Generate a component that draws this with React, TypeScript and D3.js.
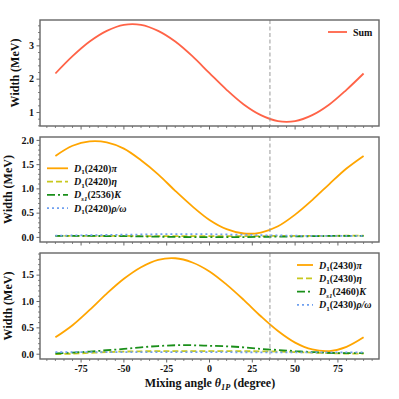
import React from 'react';
import * as d3 from 'd3';

// mixing angle grid (degree)
const angles = [-90, -80, -70, -60, -50, -40, -30, -20, -10, 0, 10, 20, 30, 40, 50, 60, 70, 80, 90];

// top panel
const sumWidth = [2.17, 2.69, 3.13, 3.45, 3.63, 3.63, 3.45, 3.13, 2.69, 2.18, 1.68, 1.24, 0.92, 0.74, 0.74, 0.92, 1.24, 1.68, 2.17];

// middle panel
const d2420Pi = [1.68, 1.89, 1.98, 1.96, 1.83, 1.59, 1.30, 0.96, 0.64, 0.36, 0.17, 0.08, 0.10, 0.23, 0.47, 0.77, 1.10, 1.42, 1.68];
const d2420Eta = [0.03, 0.03, 0.03, 0.03, 0.03, 0.028, 0.027, 0.026, 0.025, 0.025, 0.026, 0.027, 0.028, 0.03, 0.031, 0.032, 0.033, 0.034, 0.035];
const ds2536K = [0.033, 0.032, 0.03, 0.028, 0.025, 0.02, 0.015, 0.01, 0.007, 0.005, 0.005, 0.007, 0.01, 0.015, 0.02, 0.025, 0.03, 0.032, 0.033];
const d2420RhoOmega = [0.035, 0.04, 0.045, 0.05, 0.055, 0.06, 0.065, 0.068, 0.068, 0.065, 0.06, 0.055, 0.045, 0.04, 0.035, 0.03, 0.03, 0.03, 0.032];

// bottom panel
const d2430Pi = [0.32, 0.55, 0.84, 1.15, 1.43, 1.65, 1.79, 1.82, 1.74, 1.57, 1.32, 1.03, 0.72, 0.44, 0.22, 0.09, 0.06, 0.14, 0.32];
const d2430Eta = [0.0, 0.01, 0.025, 0.04, 0.05, 0.055, 0.057, 0.057, 0.057, 0.057, 0.057, 0.056, 0.055, 0.05, 0.04, 0.03, 0.02, 0.012, 0.01];
const ds2460K = [0.013, 0.03, 0.05, 0.075, 0.1, 0.13, 0.155, 0.17, 0.17, 0.16, 0.15, 0.13, 0.1, 0.08, 0.06, 0.04, 0.025, 0.02, 0.02];
const d2430RhoOmega = [0.04, 0.04, 0.04, 0.04, 0.04, 0.04, 0.04, 0.04, 0.04, 0.04, 0.038, 0.037, 0.036, 0.035, 0.034, 0.033, 0.033, 0.033, 0.033];

const idealAngle = 35.3;
const xMajor = [-75, -50, -25, 0, 25, 50, 75];

const FONT = '"Liberation Serif", "Times New Roman", serif';
const FRAME = '#666';

const x = d3.scaleLinear().domain([-99, 99]).range([40, 379]);

const DASH = { solid: undefined, dashed: '6,3', dashdot: '8,3,2,3', dotted: '2,3' };

function MathLabel({ kind, mass, meson }) {
  // D_1(mass)meson or D_{s1}(mass)meson
  return (
    <>
      <tspan fontStyle="italic">D</tspan>
      <tspan fontSize="70%" dy={2.5} fontStyle={kind === 's1' ? 'italic' : 'normal'}>{kind}</tspan>
      <tspan dy={-2.5}>({mass})</tspan>
      <tspan fontStyle="italic">{meson}</tspan>
    </>
  );
}

function Panel({ top, bottom, yDomain, yTicks, yMinorStep, yFmt, series, legend, showXLabels, yLabelX }) {
  const y = d3.scaleLinear().domain(yDomain).range([bottom, top]);
  const line = (vals) =>
    d3.line().x((d, i) => x(angles[i])).y((d) => y(d)).curve(d3.curveCatmullRom.alpha(0.5))(vals);
  const xMinor = d3.range(-95, 96, 5).filter((v) => !xMajor.includes(v));
  const yMinor = d3.range(Math.ceil(yDomain[0] / yMinorStep) * yMinorStep, yDomain[1], yMinorStep)
    .filter((v) => !yTicks.some((t) => Math.abs(t - v) < 1e-6));

  return (
    <g>
      {/* curves */}
      {series.map((s, i) => (
        <path key={i} d={line(s.values)} fill="none" stroke={s.color} strokeWidth={s.width || 1.8}
          strokeDasharray={DASH[s.style]} />
      ))}
      <line x1={x(idealAngle)} x2={x(idealAngle)} y1={top} y2={bottom} stroke="#999" strokeWidth={1} strokeDasharray="4,2.5" />
      <rect x={40} y={top} width={339} height={bottom - top} fill="none" stroke={FRAME} strokeWidth={1.4} />

      {/* x ticks */}
      {xMajor.map((v) => (
        <line key={'xm' + v} x1={x(v)} x2={x(v)} y1={bottom} y2={bottom + 3.5} stroke={FRAME} strokeWidth={1} />
      ))}
      {xMinor.map((v) => (
        <line key={'xn' + v} x1={x(v)} x2={x(v)} y1={bottom} y2={bottom + 2} stroke={FRAME} strokeWidth={0.8} />
      ))}
      {showXLabels && xMajor.map((v) => (
        <text key={'xl' + v} x={x(v)} y={bottom + 13} textAnchor="middle" fontFamily={FONT} fontWeight="bold" fontSize={10} fill="#111">
          {`${v}`}
        </text>
      ))}

      {/* y ticks */}
      {yTicks.map((v) => (
        <g key={'ym' + v}>
          <line x1={40 - 3.5} x2={40} y1={y(v)} y2={y(v)} stroke={FRAME} strokeWidth={1} />
          <text x={34} y={y(v) + 3.3} textAnchor="end" fontFamily={FONT} fontWeight="bold" fontSize={10} fill="#111">
            {yFmt(v)}
          </text>
        </g>
      ))}
      {yMinor.map((v) => (
        <line key={'yn' + v} x1={40 - 2} x2={40} y1={y(v)} y2={y(v)} stroke={FRAME} strokeWidth={0.8} />
      ))}
      <text transform={`translate(${yLabelX},${(top + bottom) / 2}) rotate(-90)`} textAnchor="middle"
        fontFamily={FONT} fontWeight="bold" fontSize={12} fill="#111">Width (MeV)</text>

      {/* legend */}
      {legend.items.map((s, i) => {
        const ly = legend.y + i * legend.dy;
        return (
          <g key={'lg' + i}>
            <line x1={legend.x} x2={legend.x + legend.len} y1={ly} y2={ly} stroke={s.color} strokeWidth={s.width || 1.8}
              strokeDasharray={DASH[s.style]} />
            <text x={legend.x + legend.len + 6} y={ly + 3.5} fontFamily={FONT} fontWeight="bold" fontSize={10} fill="#111">
              {s.label}
            </text>
          </g>
        );
      })}
    </g>
  );
}

export default function App() {
  const sumSeries = [{ values: sumWidth, color: '#ff6347', style: 'solid', label: 'Sum' }];
  const mid = [
    { values: d2420Pi, color: '#ffa500', style: 'solid', label: <MathLabel kind="1" mass="2420" meson="π" /> },
    { values: d2420Eta, color: '#c8c81e', style: 'dashed', label: <MathLabel kind="1" mass="2420" meson="η" /> },
    { values: ds2536K, color: '#1a8f1a', style: 'dashdot', label: <MathLabel kind="s1" mass="2536" meson="K" /> },
    { values: d2420RhoOmega, color: '#6fa0f0', style: 'dotted', label: <MathLabel kind="1" mass="2420" meson="ρ/ω" /> },
  ];
  const bot = [
    { values: d2430Pi, color: '#ffa500', style: 'solid', label: <MathLabel kind="1" mass="2430" meson="π" /> },
    { values: d2430Eta, color: '#c8c81e', style: 'dashed', label: <MathLabel kind="1" mass="2430" meson="η" /> },
    { values: ds2460K, color: '#1a8f1a', style: 'dashdot', label: <MathLabel kind="s1" mass="2460" meson="K" /> },
    { values: d2430RhoOmega, color: '#6fa0f0', style: 'dotted', label: <MathLabel kind="1" mass="2430" meson="ρ/ω" /> },
  ];
  const fmt1 = (v) => v.toFixed(1);

  return (
    <svg width={399} height={399} style={{ position: 'absolute', left: 0, top: 0, background: '#fff' }}>
      <Panel top={20} bottom={126} yDomain={[0.595, 3.775]} yTicks={[1, 2, 3]} yMinorStep={0.2} yFmt={(v) => `${v}`}
        series={sumSeries} legend={{ x: 328, y: 32, dy: 13, len: 19, items: sumSeries }} showXLabels={false} yLabelX={19} />
      <Panel top={137} bottom={242} yDomain={[-0.095, 2.07]} yTicks={[0, 0.5, 1, 1.5, 2]} yMinorStep={0.1} yFmt={fmt1}
        series={mid} legend={{ x: 47, y: 168.3, dy: 13.3, len: 21, items: mid }} showXLabels={false} yLabelX={12} />
      <Panel top={253} bottom={359} yDomain={[-0.091, 1.92]} yTicks={[0, 0.5, 1, 1.5]} yMinorStep={0.1} yFmt={fmt1}
        series={bot} legend={{ x: 297, y: 265, dy: 13.3, len: 16, items: bot }} showXLabels={true} yLabelX={12} />
      <text x={210} y={387} textAnchor="middle" fontFamily={FONT} fontWeight="bold" fontSize={12} fill="#111">
        Mixing angle <tspan fontStyle="italic">θ</tspan>
        <tspan fontStyle="italic" fontSize="70%" dy={2.5}>1P</tspan>
        <tspan dy={-2.5}> (degree)</tspan>
      </text>
    </svg>
  );
}
